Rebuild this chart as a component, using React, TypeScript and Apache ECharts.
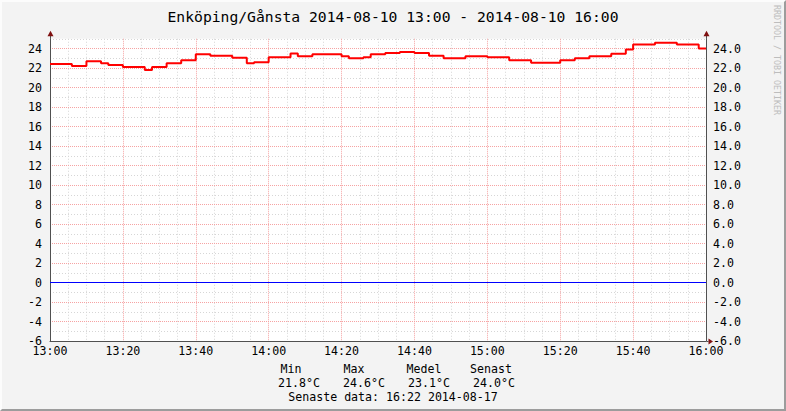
import { useEffect, useRef } from 'react';
import * as echarts from 'echarts';

const FONT = '"DejaVu Sans Mono", monospace';

const titleText = 'Enköping/Gånsta 2014-08-10 13:00 - 2014-08-10 16:00';
const startHour = 13;
const xTicksMinutes = { min: 0, max: 180, major: 20, minor: 5 };
const yRange = { min: -6, max: 25, major: 2, minor: 1 };

// minute (after 13:00) at which each step begins, and its temperature (°C)
const stepStart = [0, 6, 10, 14, 16, 20, 26, 28, 32, 36, 40, 44, 50, 54, 56, 60, 66, 68, 72, 80, 82, 86, 88, 92, 96, 100, 104, 108, 114, 120, 126, 132, 140, 144, 148, 154, 158, 160, 166, 172, 178];
const stepTemp = [22.4, 22.2, 22.7, 22.5, 22.3, 22.1, 21.8, 22.1, 22.5, 22.8, 23.4, 23.25, 23.05, 22.5, 22.6, 23.1, 23.5, 23.2, 23.4, 23.2, 23.0, 23.1, 23.4, 23.55, 23.65, 23.55, 23.25, 23.0, 23.2, 23.1, 22.8, 22.55, 22.8, 23.0, 23.2, 23.45, 23.9, 24.4, 24.6, 24.4, 24.0];
const endMinute = 180;
const zeroLevel = 0;

const statLabels = ['Min', 'Max', 'Medel', 'Senast'];
const statValues = ['21.8°C', '24.6°C', '23.1°C', '24.0°C'];
const lastDataText = 'Senaste data: 16:22 2014-08-17';
const watermark = 'RRDTOOL / TOBI OETIKER';

const fmtTime = (m: number) => `${startHour + Math.floor(m / 60)}:${String(m % 60).padStart(2, '0')}`;

const MAJOR = '#f6a3a3';
const MINOR = '#d6d6d6';
const AXIS = '#505050';
const ARROW = '#7f1010';

export default function App() {
  const ref = useRef<HTMLDivElement>(null);
  useEffect(() => {
    const chart = echarts.init(ref.current!, null, { renderer: 'svg' });
    const tempData = stepStart.map((m, i) => [m, stepTemp[i]]);
    tempData.push([endMinute, stepTemp[stepTemp.length - 1]]);

    const labelStyle = { color: '#000', fontFamily: FONT, fontSize: 11.6 };
    const statLabelX = [291, 354, 424, 491];
    const statValueX = [299, 364, 429, 494];

    const hiddenLine = { show: false, onZero: false };

    const option: any = {
      animation: false,
      title: {
        text: titleText,
        left: 'center',
        top: 4,
        textStyle: { fontFamily: FONT, fontSize: 14.7, fontWeight: 'normal', color: '#000' },
      },
      grid: {
        left: 50, right: 80, top: 38.75, bottom: 70,
        show: true, backgroundColor: '#ffffff', borderWidth: 0,
      },
      xAxis: [
        {
          type: 'value', min: xTicksMinutes.min, max: xTicksMinutes.max, interval: xTicksMinutes.major,
          position: 'bottom',
          axisLine: { show: true, onZero: false, lineStyle: { color: AXIS, width: 1 } },
          axisTick: { show: false },
          axisLabel: { ...labelStyle, margin: 4, formatter: (v: number) => fmtTime(v) },
          splitLine: { show: true, showMinLine: false, showMaxLine: false, lineStyle: { color: MAJOR, type: [1, 1], width: 1 } },
          z: 3,
        },
        {
          type: 'value', min: xTicksMinutes.min, max: xTicksMinutes.max, interval: xTicksMinutes.minor,
          position: 'bottom',
          axisLine: hiddenLine,
          axisTick: { show: false },
          axisLabel: { show: false },
          splitLine: { show: true, lineStyle: { color: ['rgba(0,0,0,0)', MINOR, MINOR, MINOR], type: [1, 2], width: 1 } },
        },
      ],
      yAxis: [
        {
          type: 'value', min: yRange.min, max: yRange.max, interval: yRange.major,
          position: 'left',
          axisLine: { show: true, onZero: false, lineStyle: { color: AXIS, width: 1 } },
          axisTick: { show: false },
          axisLabel: { ...labelStyle, margin: 8, showMaxLabel: false, formatter: (v: number) => String(v) },
          splitLine: { show: true, showMinLine: false, showMaxLine: false, lineStyle: { color: MAJOR, type: [1, 1], width: 1 } },
          z: 3,
        },
        {
          type: 'value', min: yRange.min, max: yRange.max, interval: yRange.major,
          position: 'right',
          axisLine: { show: true, onZero: false, lineStyle: { color: AXIS, width: 1 } },
          axisTick: { show: false },
          axisLabel: { ...labelStyle, margin: 7, showMaxLabel: false, formatter: (v: number) => v.toFixed(1) },
          splitLine: { show: false },
          z: 3,
        },
        {
          type: 'value', min: yRange.min, max: yRange.max, interval: yRange.minor,
          position: 'left',
          axisLine: hiddenLine,
          axisTick: { show: false },
          axisLabel: { show: false },
          splitLine: { show: true, lineStyle: { color: ['rgba(0,0,0,0)', MINOR], type: [1, 2], width: 1 } },
        },
      ],
      series: [
        {
          type: 'line',
          xAxisIndex: 0, yAxisIndex: 0,
          data: [[xTicksMinutes.min, zeroLevel], [xTicksMinutes.max, zeroLevel]],
          symbol: 'none',
          lineStyle: { color: '#0000ff', width: 1 },
          silent: true,
          z: 4,
        },
        {
          type: 'line',
          xAxisIndex: 0, yAxisIndex: 0,
          data: tempData,
          step: 'end',
          symbol: 'none',
          lineStyle: { color: '#ff0000', width: 2 },
          silent: true,
          z: 5,
        },
      ],
      graphic: [
        ...statLabels.map((t, i) => ({
          type: 'text', x: statLabelX[i], y: 369,
          style: { text: t, fill: '#000', font: `11.6px ${FONT}`, textAlign: 'center', textVerticalAlign: 'middle' },
        })),
        ...statValues.map((t, i) => ({
          type: 'text', x: statValueX[i], y: 383,
          style: { text: t, fill: '#000', font: `11.6px ${FONT}`, textAlign: 'center', textVerticalAlign: 'middle' },
        })),
        {
          type: 'text', x: 393, y: 397,
          style: { text: lastDataText, fill: '#000', font: `11.6px ${FONT}`, textAlign: 'center', textVerticalAlign: 'middle' },
        },
        {
          type: 'text', x: 777, y: 5, rotation: -Math.PI / 2,
          style: { text: watermark, fill: '#bdbdbd', font: `8.3px ${FONT}`, textAlign: 'left', textVerticalAlign: 'middle' },
        },
      ],
    };
    chart.setOption(option);

    // axis-end arrows (decorations) placed from the axes' own pixel positions
    const [xl, yb] = chart.convertToPixel({ xAxisIndex: 0, yAxisIndex: 0 }, [xTicksMinutes.min, yRange.min]);
    const [xr, yt] = chart.convertToPixel({ xAxisIndex: 0, yAxisIndex: 0 }, [xTicksMinutes.max, yRange.max]);
    const lx = Math.round(xl) + 0.5;
    const rx = Math.round(xr) + 0.5;
    const by = Math.round(yb) + 0.5;
    const upArrow = (cx: number) => ({
      type: 'polygon',
      shape: { points: [[cx - 3, yt - 2.5], [cx + 3, yt - 2.5], [cx, yt - 8]] },
      style: { fill: ARROW },
      z: 10,
    });
    const axisExt = (cx: number) => ({
      type: 'line',
      shape: { x1: cx, y1: yt, x2: cx, y2: yt - 3 },
      style: { stroke: AXIS, lineWidth: 1 },
      z: 10,
    });
    chart.setOption({
      graphic: [
        ...option.graphic,
        axisExt(lx), axisExt(rx),
        upArrow(lx), upArrow(rx),
        { type: 'line', shape: { x1: rx, y1: by, x2: rx + 2, y2: by }, style: { stroke: AXIS, lineWidth: 1 }, z: 10 },
        { type: 'polygon', shape: { points: [[rx + 2, by - 3], [rx + 2, by + 3], [rx + 6.5, by]] }, style: { fill: ARROW }, z: 10 },
      ],
    });
    return () => chart.dispose();
  }, []);

  return (
    <div
      style={{
        position: 'fixed', left: 0, top: 0, width: 786, height: 411, boxSizing: 'border-box',
        background: '#f3f3f3',
        borderTop: '2px solid #fcfcfc', borderLeft: '2px solid #fcfcfc',
        borderRight: '2px solid #9c9c9c', borderBottom: '2px solid #9c9c9c',
      }}
    >
      <div ref={ref} style={{ position: 'absolute', left: -2, top: -2, width: 786, height: 411 }} />
    </div>
  );
}
